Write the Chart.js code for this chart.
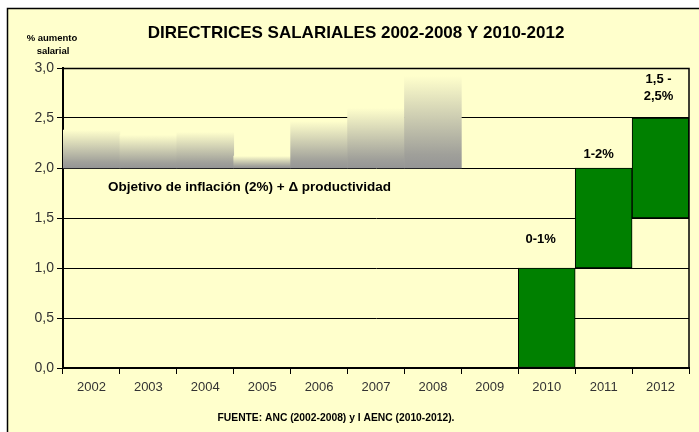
<!DOCTYPE html>
<html>
<head>
<meta charset="utf-8">
<script src="https://cdn.jsdelivr.net/npm/chart.js@4/dist/chart.umd.min.js"></script>
<style>
html,body{margin:0;padding:0;background:#fff;}
#wrap{width:699px;height:432px;position:relative;}
</style>
</head>
<body>
<div id="wrap"><canvas id="c" width="699" height="432"></canvas></div>
<script>
// ---- data ----
const categories = ['2002','2003','2004','2005','2006','2007','2008','2009','2010','2011','2012'];
const ancTops = [2.38, 2.33, 2.36, 2.12, 2.47, 2.60, 2.92, null, null, null, null]; // ANC bars start at 2.0
const ancBase = 2.0;
const aencLow = [null, null, null, null, null, null, null, null, 0.0, 1.0, 1.5];
const aencHigh = [null, null, null, null, null, null, null, null, 1.0, 2.0, 2.5];
const aencLabels = [null, null, null, null, null, null, null, null, ['0-1%'], ['1-2%'], ['1,5 -', '2,5%']];
const yTicks = [0, 0.5, 1.0, 1.5, 2.0, 2.5, 3.0];
const titleText = 'DIRECTRICES SALARIALES 2002-2008 Y 2010-2012';
const yAxisTitle = ['% aumento', 'salarial'];
const ancNote = 'Objetivo de inflación (2%) + Δ productividad';
const sourceText = 'FUENTE: ANC (2002-2008) y I AENC (2010-2012).';

// ---- styles ----
const BG = '#FFFFCC';
const GREEN = '#008000';
const labelLift = {8: 29, 9: 14, 10: 22};
const labelShift = {8: -6, 9: -5, 10: -2};
const SANS = '"Liberation Sans", Arial, sans-serif';

const ancData = ancTops.map(v => v == null ? null : [ancBase, v]);
const aencData = aencLow.map((v, i) => v == null ? null : [v, aencHigh[i]]);

const bgPlugin = {
  id: 'bg',
  beforeDraw(chart) {
    const ctx = chart.ctx;
    ctx.save();
    ctx.fillStyle = '#ffffff';
    ctx.fillRect(0, 0, chart.width, chart.height);
    ctx.fillStyle = BG;
    ctx.fillRect(7, 8, chart.width - 7, chart.height - 8);
    ctx.strokeStyle = '#000';
    ctx.lineWidth = 1.5;
    ctx.beginPath();
    ctx.moveTo(7.5, chart.height);
    ctx.lineTo(7.5, 8.5);
    ctx.lineTo(chart.width, 8.5);
    ctx.stroke();
    ctx.restore();
  },
  afterDatasetsDraw(chart) {
    const ctx = chart.ctx;
    const a = chart.chartArea;
    ctx.save();
    ctx.strokeStyle = '#000';
    ctx.lineWidth = 1.5;
    ctx.beginPath();
    ctx.moveTo(a.left, a.top + 0.5);
    ctx.lineTo(a.right, a.top + 0.5);
    ctx.lineTo(a.right, a.bottom);
    ctx.stroke();
    // texts
    ctx.fillStyle = '#000';
    ctx.textAlign = 'center';
    ctx.textBaseline = 'middle';
    ctx.font = 'bold 17px ' + SANS;
    ctx.fillText(titleText, 356, 33);
    ctx.font = 'bold 9.5px ' + SANS;
    ctx.fillText(yAxisTitle[0], 52, 38);
    ctx.fillText(yAxisTitle[1], 53, 51);
    ctx.font = 'bold 10.3px ' + SANS;
    ctx.fillText(sourceText, 336, 418);
    ctx.font = 'bold 13.5px ' + SANS;
    ctx.textAlign = 'left';
    ctx.fillText(ancNote, 108, 187);
    ctx.textAlign = 'center';
    ctx.font = 'bold 13px ' + SANS;
    const xs = chart.scales.x, ys = chart.scales.y;
    aencLabels.forEach((lines, i) => {
      if (!lines) return;
      const x = xs.getPixelForValue(i) + (labelShift[i] || 0);
      const top = ys.getPixelForValue(aencHigh[i]) - labelLift[i];
      const n = lines.length;
      lines.forEach((t, k) => {
        ctx.fillText(t, x, top - (n - 1 - k) * 17);
      });
    });
    ctx.restore();
  }
};

new Chart(document.getElementById('c'), {
  type: 'bar',
  data: {
    labels: categories,
    datasets: [
      {
        label: 'ANC',
        data: ancData,
        grouped: false,
        barPercentage: 1,
        categoryPercentage: 1,
        borderWidth: 0,
        backgroundColor: (c) => {
          const chart = c.chart;
          if (!chart.chartArea || !c.raw) return '#999';
          const y = chart.scales.y;
          const g = chart.ctx.createLinearGradient(0, y.getPixelForValue(c.raw[0]), 0, y.getPixelForValue(c.raw[1]));
          g.addColorStop(0, '#959595');
          g.addColorStop(0.15, '#a0a09a');
          g.addColorStop(1, BG);
          return g;
        }
      },
      {
        label: 'AENC',
        data: aencData,
        grouped: false,
        barPercentage: 1,
        categoryPercentage: 1,
        backgroundColor: GREEN,
        borderColor: '#000',
        borderWidth: 1,
        borderSkipped: false
      }
    ]
  },
  options: {
    responsive: false,
    animation: false,
    events: [],
    layout: { padding: { left: 0, top: 68, right: 10, bottom: 0 } },
    plugins: { legend: { display: false }, tooltip: { enabled: false }, title: { display: false } },
    scales: {
      x: {
        offset: true,
        afterFit(s) { s.height = 64; },
        grid: { display: true, drawOnChartArea: false, drawTicks: true, tickLength: 6, offset: true, color: '#000', lineWidth: 1 },
        border: { display: true, color: '#000', width: 2 },
        ticks: {
          color: '#333',
          padding: 6,
          font: { family: '"Liberation Sans Narrow", "Arial Narrow", "Liberation Sans", sans-serif', size: 13 }
        }
      },
      y: {
        min: 0,
        max: 3,
        afterFit(s) { s.width = 63; },
        afterBuildTicks(s) { s.ticks = yTicks.map(v => ({ value: v })); },
        grid: { color: '#000', lineWidth: 1, tickLength: 6 },
        border: { display: true, color: '#000', width: 2 },
        ticks: {
          color: '#333',
          padding: 3,
          font: { family: '"Liberation Sans Narrow", "Arial Narrow", "Liberation Sans", sans-serif', size: 14 },
          callback: (v) => Number(v).toFixed(1).replace('.', ',')
        }
      }
    }
  },
  plugins: [bgPlugin]
});
</script>
</body>
</html>
